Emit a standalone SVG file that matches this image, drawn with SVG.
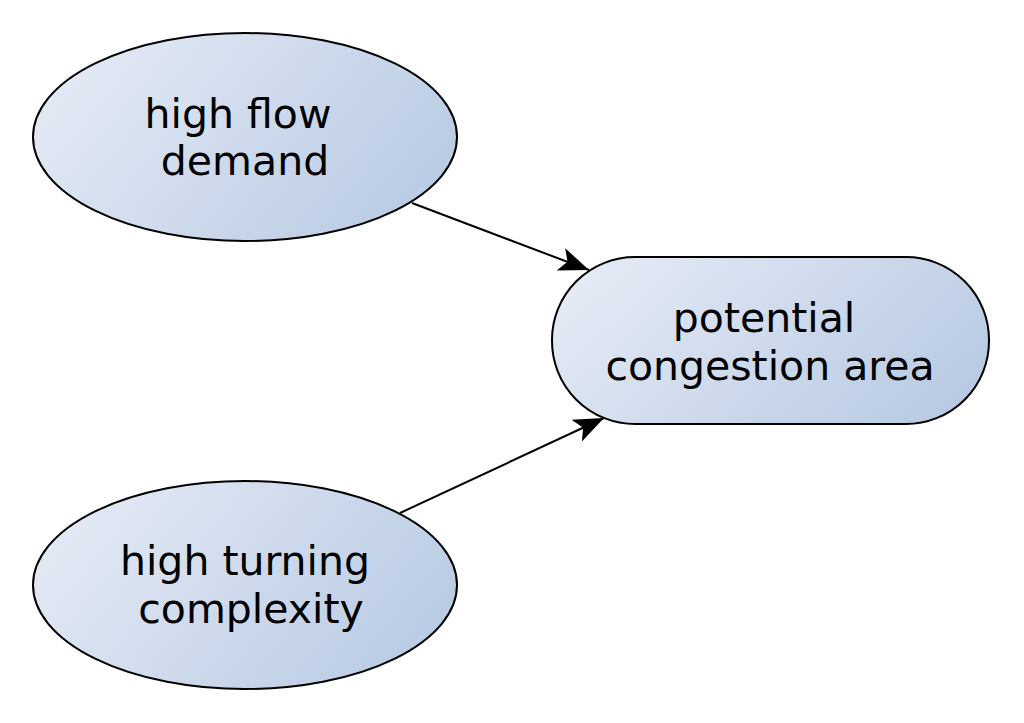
<svg xmlns="http://www.w3.org/2000/svg" width="1024" height="723" viewBox="0 0 1024 723">
<defs>
<linearGradient id="g" x1="0" y1="0.3" x2="1" y2="0.7">
<stop offset="0" stop-color="#e4eaf5"/>
<stop offset="1" stop-color="#b8cae3"/>
</linearGradient>
<marker id="a" viewBox="0 0 30 24" refX="30" refY="12" markerWidth="30" markerHeight="24" markerUnits="userSpaceOnUse" orient="auto">
<path d="M0,0 L30,12 L0,24 L7,12 Z" fill="#000"/>
</marker>
</defs>
<style>
.n{fill:url(#g);stroke:#000;stroke-width:2}
.t{font-family:"DejaVu Sans",sans-serif;font-size:41px;fill:#000;text-anchor:middle}
.e{stroke:#000;stroke-width:2;fill:none;marker-end:url(#a)}
</style>
<g id="connectors">
<line class="e" x1="412" y1="203" x2="589" y2="270"/>
<line class="e" x1="400" y1="513" x2="604" y2="418"/>
</g>
<g id="high-flow-demand">
<ellipse class="n" cx="245" cy="137" rx="212" ry="104"/>
<text class="t" x="238" y="128">high flow</text>
<text class="t" x="245" y="175">demand</text>
</g>
<g id="high-turning-complexity">
<ellipse class="n" cx="245" cy="585" rx="212" ry="104"/>
<text class="t" x="245" y="575">high turning</text>
<text class="t" x="251" y="623">complexity</text>
</g>
<g id="potential-congestion-area">
<rect class="n" x="552" y="257" width="437" height="167" rx="83" ry="83"/>
<text class="t" x="764" y="332">potential</text>
<text class="t" x="770" y="380">congestion area</text>
</g>
</svg>
